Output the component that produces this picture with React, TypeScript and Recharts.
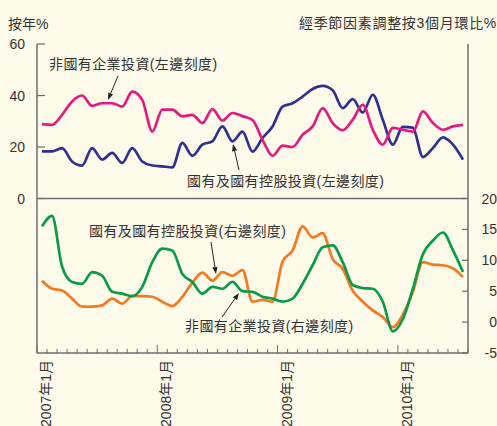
import React from 'react';
import { LineChart, Line, XAxis, YAxis, ReferenceLine } from 'recharts';

// ---------- data ----------
const monthCount = 43; // 2007-01 .. 2010-07
const yearTickIndex = [0, 12, 24, 36];
const yearTickLabels = ['2007年1月', '2008年1月', '2009年1月', '2010年1月'];
const leftTicks = [0, 20, 40, 60];
const rightTicks = [-5, 0, 5, 10, 15, 20];

// 非國有企業投資 (左邊刻度) 按年%
const nonStateYoY = [
  28.9, 28.6, 32.5, 37.7, 40.0, 36.0, 37.0, 37.0, 35.7, 41.5, 38.3, 26.0,
  34.5, 34.5, 31.9, 32.5, 29.3, 34.7, 30.3, 33.2, 32.0, 30.5, 22.8, 16.6,
  20.5, 20.0, 24.8, 28.0, 35.1, 29.3, 26.5, 30.6, 36.4, 26.7, 20.9, 27.4,
  26.7, 26.0, 33.8, 29.3, 26.7, 28.0, 28.6,
];
// 國有及國有控股投資 (左邊刻度) 按年%
const stateYoY = [
  18.3, 18.3, 19.6, 14.4, 12.8, 19.6, 15.1, 17.7, 13.8, 19.6, 14.4, 12.8,
  12.5, 12.1, 21.6, 16.6, 20.9, 22.2, 28.0, 22.2, 26.0, 18.2, 23.5, 28.0,
  35.7, 37.0, 39.6, 42.5, 43.7, 42.0, 35.1, 38.6, 33.4, 40.3, 30.6, 20.9,
  27.8, 27.5, 16.1, 19.6, 23.7, 20.9, 15.1,
];
// 國有及國有控股投資 (右邊刻度) 3個月環比%
const stateMoM = [
  15.5, 17.2, 9.0, 6.5, 6.2, 8.1, 7.5, 4.9, 4.6, 4.2, 5.7, 9.7,
  11.9, 11.6, 7.8, 6.5, 4.6, 5.7, 5.4, 6.5, 5.0, 4.9, 4.1, 3.8,
  3.3, 3.8, 6.2, 9.2, 12.1, 12.4, 9.7, 6.0, 5.5, 5.4, 3.3, -1.5,
  0.5, 5.4, 11.0, 13.2, 14.5, 11.6, 8.1,
];
// 非國有企業投資 (右邊刻度) 3個月環比%
const nonStateMoM = [
  6.7, 5.4, 5.1, 3.8, 2.5, 2.5, 2.7, 3.8, 3.0, 4.2, 4.2, 4.1,
  3.3, 2.6, 4.1, 6.4, 8.0, 6.7, 8.1, 7.5, 8.4, 3.3, 3.6, 3.3,
  9.8, 11.6, 15.5, 13.7, 14.4, 10.2, 8.6, 5.1, 3.3, 1.9, 0.8, -0.8,
  1.2, 4.9, 9.7, 9.3, 9.2, 8.7, 7.3,
];

const data = nonStateYoY.map((_, i) => ({
  x: i + 0.5,
  nsy: nonStateYoY[i],
  sy: stateYoY[i],
  sm: stateMoM[i],
  nsm: nonStateMoM[i],
}));
const monthTicks = Array.from({ length: monthCount + 1 }, (_, i) => i);

// ---------- styles ----------
const BG = '#FFFBEA';
const AXIS = '#6E6E6E';
const TEXT = '#333333';
const FONT = '"Liberation Sans", "Noto Sans CJK TC", sans-serif';
const FS = 14;

const XTick = (props: any) => {
  const { x, y, payload } = props;
  const idx = yearTickIndex.indexOf(payload.value);
  const major = idx >= 0;
  return (
    <g>
      <line x1={x} y1={y} x2={x} y2={y - (major ? 8 : 4)} stroke={AXIS} strokeWidth={1} />
      {major && (
        <text
          transform={`translate(${x + 14}, ${y + 7}) rotate(-90)`}
          textAnchor="end"
          fontSize={FS}
          fill={TEXT}
          fontFamily={FONT}
        >
          {yearTickLabels[idx]}
        </text>
      )}
    </g>
  );
};

const LeftTick = (props: any) => {
  const { x, y, payload } = props;
  return (
    <g>
      <line x1={x} y1={y} x2={x + 8} y2={y} stroke={AXIS} strokeWidth={1.2} />
      <text x={25} y={y + 5} textAnchor="end" fontSize={FS} fill={TEXT} fontFamily={FONT}>
        {payload.value}
      </text>
    </g>
  );
};

const RightTick = (props: any) => {
  const { x, y, payload } = props;
  return (
    <g>
      <line x1={x - 6} y1={y} x2={x} y2={y} stroke={AXIS} strokeWidth={1.2} />
      <text x={497} y={y + 5} textAnchor="end" fontSize={FS} fill={TEXT} fontFamily={FONT}>
        {payload.value}
      </text>
    </g>
  );
};

const Arrow = ({ x1, y1, x2, y2 }: { x1: number; y1: number; x2: number; y2: number }) => {
  const ang = Math.atan2(y2 - y1, x2 - x1);
  const L = 7;
  const W = 2.6;
  const bx = x2 - L * Math.cos(ang);
  const by = y2 - L * Math.sin(ang);
  const px = -Math.sin(ang) * W;
  const py = Math.cos(ang) * W;
  return (
    <g>
      <line x1={x1} y1={y1} x2={bx} y2={by} stroke="#222" strokeWidth={1} />
      <polygon points={`${x2},${y2} ${bx + px},${by + py} ${bx - px},${by - py}`} fill="#222" />
    </g>
  );
};

export default function App() {
  return (
    <div style={{ position: 'fixed', left: 0, top: 0, width: 497, height: 426, background: BG }}>
      <div style={{ position: 'absolute', left: 0, top: 0 }}>
        <LineChart width={497} height={426} data={data} margin={{ top: 44, right: 0, bottom: 0, left: 0 }}>
          <XAxis
            dataKey="x"
            type="number"
            domain={[0, monthCount]}
            ticks={monthTicks}
            interval={0}
            tickSize={0}
            tickMargin={0}
            tickLine={false}
            tick={<XTick />}
            height={73}
            axisLine={{ stroke: AXIS, strokeWidth: 1.5 }}
            allowDataOverflow
          />
          <YAxis
            yAxisId="left"
            domain={[-60, 60]}
            ticks={leftTicks}
            interval={0}
            width={37}
            tickSize={0}
            tickMargin={0}
            tickLine={false}
            tick={<LeftTick />}
            axisLine={{ stroke: AXIS, strokeWidth: 1.5 }}
            allowDataOverflow
          />
          <YAxis
            yAxisId="right"
            orientation="right"
            domain={[-5, 45]}
            ticks={rightTicks}
            interval={0}
            width={29}
            tickSize={0}
            tickMargin={0}
            tickLine={false}
            tick={<RightTick />}
            axisLine={{ stroke: AXIS, strokeWidth: 1.5 }}
            allowDataOverflow
          />
          <ReferenceLine yAxisId="left" y={0} stroke={AXIS} strokeWidth={1.5} />
          <Line yAxisId="left" dataKey="sy" type="monotone" stroke="#2E3192" strokeWidth={2.7} dot={false} isAnimationActive={false} />
          <Line yAxisId="left" dataKey="nsy" type="monotone" stroke="#E6197F" strokeWidth={2.7} dot={false} isAnimationActive={false} />
          <Line yAxisId="right" dataKey="nsm" type="monotone" stroke="#F47920" strokeWidth={2.7} dot={false} isAnimationActive={false} />
          <Line yAxisId="right" dataKey="sm" type="monotone" stroke="#0A9B48" strokeWidth={2.7} dot={false} isAnimationActive={false} />
        </LineChart>
      </div>
      <svg
        width={497}
        height={426}
        style={{ position: 'absolute', left: 0, top: 0, pointerEvents: 'none' }}
        fontFamily={FONT}
        fontSize={FS}
        fill={TEXT}
      >
        <text x={8} y={29}>按年%</text>
        <text x={497} y={28} textAnchor="end" letterSpacing={0.7}>經季節因素調整按3個月環比%</text>
        <text x={49} y={69} letterSpacing={0.4}>非國有企業投資(左邊刻度)</text>
        <text x={187} y={186} letterSpacing={0.4}>國有及國有控股投資(左邊刻度)</text>
        <text x={89} y={236} letterSpacing={0.4}>國有及國有控股投資(右邊刻度)</text>
        <text x={185} y={331} letterSpacing={0.4}>非國有企業投資(右邊刻度)</text>
        <Arrow x1={118} y1={76} x2={108} y2={100} />
        <Arrow x1={239} y1={170} x2={233} y2={144} />
        <Arrow x1={211} y1={242} x2={216} y2={274} />
        <Arrow x1={222} y1={317} x2={239} y2={293} />
      </svg>
    </div>
  );
}
